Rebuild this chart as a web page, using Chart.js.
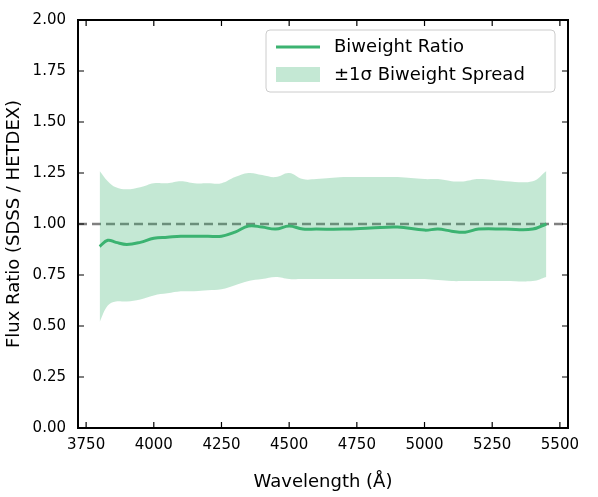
<!DOCTYPE html>
<html><head><meta charset="utf-8">
<script src="https://cdn.jsdelivr.net/npm/chart.js@4.4.0/dist/chart.umd.min.js"></script>
<style>html,body{margin:0;padding:0;background:#fff}#wrap{width:598px;height:497px}</style>
</head><body><div id="wrap"><canvas id="c"></canvas></div>
<script>
// values
const wavelength = [3800,3830,3860,3900,3950,4000,4050,4100,4150,4200,4250,4300,4350,4400,4450,4500,4550,4600,4700,4800,4900,5000,5050,5100,5150,5200,5300,5400,5450];
const ratio      = [0.89,0.92,0.91,0.90,0.91,0.93,0.935,0.94,0.94,0.94,0.94,0.96,0.99,0.985,0.975,0.99,0.975,0.975,0.975,0.98,0.985,0.97,0.975,0.965,0.96,0.975,0.975,0.975,1.0];
const upper      = [1.26,1.21,1.18,1.17,1.18,1.20,1.20,1.21,1.20,1.20,1.20,1.23,1.25,1.24,1.23,1.25,1.22,1.22,1.23,1.23,1.23,1.22,1.22,1.21,1.21,1.22,1.21,1.21,1.26];
const lower      = [0.52,0.60,0.62,0.62,0.63,0.65,0.66,0.67,0.67,0.675,0.68,0.70,0.72,0.73,0.74,0.73,0.73,0.73,0.73,0.73,0.73,0.73,0.725,0.72,0.72,0.72,0.72,0.72,0.74];
const xTicks = [3750,4000,4250,4500,4750,5000,5250,5500];
const yTicks = [0,0.25,0.5,0.75,1.0,1.25,1.5,1.75,2.0];
const green = '#3cb371';
const pts = a => wavelength.map((w,i) => ({x:w, y:a[i]}));

const frame = {
  id:'frame',
  afterDraw(ch){
    const c = ch.ctx, a = ch.chartArea, sx = ch.scales.x, sy = ch.scales.y;
    c.save(); c.strokeStyle='#000'; c.lineWidth=2;
    c.strokeRect(a.left,a.top,a.right-a.left,a.bottom-a.top);
    c.lineWidth=1.2;
    xTicks.forEach(t=>{const p=sx.getPixelForValue(t);c.beginPath();c.moveTo(p,a.bottom);c.lineTo(p,a.bottom-6);c.moveTo(p,a.top);c.lineTo(p,a.top+6);c.stroke();});
    yTicks.forEach(t=>{const p=sy.getPixelForValue(t);c.beginPath();c.moveTo(a.left,p);c.lineTo(a.left+6,p);c.moveTo(a.right,p);c.lineTo(a.right-6,p);c.stroke();});
    // legend
    const lx=266, ly=30, lw=289, lh=62;
    c.fillStyle='rgba(255,255,255,0.85)'; c.strokeStyle='#ccc'; c.lineWidth=1;
    c.beginPath(); c.roundRect(lx,ly,lw,lh,4); c.fill(); c.stroke();
    c.strokeStyle=green; c.lineWidth=3;
    c.beginPath(); c.moveTo(276,47); c.lineTo(320,47); c.stroke();
    c.fillStyle='rgba(60,179,113,0.3)'; c.fillRect(276,67,44,15);
    c.fillStyle='#000'; c.font='18px "DejaVu Sans"'; c.textBaseline='middle';
    c.fillText('Biweight Ratio',334,47);
    c.fillText('\u00b11\u03c3 Biweight Spread',334,75);
    c.restore();
  }
};

new Chart(document.getElementById('c'), {
  type:'line',
  data:{datasets:[
    {data:pts(lower), borderWidth:0, pointRadius:0, fill:false, tension:0.4},
    {data:pts(upper), borderWidth:0, pointRadius:0, fill:'-1', backgroundColor:'rgba(60,179,113,0.3)', tension:0.4},
    {data:pts(ratio), borderColor:green, borderWidth:3, pointRadius:0, fill:false, tension:0.4},
    {data:[{x:3720,y:1},{x:5530,y:1}], borderColor:'#808080', borderWidth:2.5, borderDash:[9,5], pointRadius:0, fill:false}
  ]},
  options:{
    responsive:true, maintainAspectRatio:false, animation:false,
    layout:{padding:{top:20,right:30}},
    plugins:{legend:{display:false}, tooltip:{enabled:false}},
    scales:{
      x:{type:'linear', min:3720, max:5530,
        afterBuildTicks:s=>{s.ticks=xTicks.map(v=>({value:v}));},
        afterFit:s=>{s.height=69;},
        grid:{display:false}, border:{display:false},
        ticks:{color:'#000', font:{family:'DejaVu Sans', size:15}, maxRotation:0, padding:0, callback:v=>String(v)},
        title:{display:true, text:'Wavelength (\u00c5)', color:'#000', font:{family:'DejaVu Sans', size:18}, padding:{top:0}}},
      y:{min:0, max:2,
        afterBuildTicks:s=>{s.ticks=yTicks.map(v=>({value:v}));},
        afterFit:s=>{s.width=78;},
        grid:{display:false}, border:{display:false},
        ticks:{color:'#000', font:{family:'DejaVu Sans', size:15}, callback:v=>v.toFixed(2), padding:4},
        title:{display:true, text:'Flux Ratio (SDSS / HETDEX)', color:'#000', font:{family:'DejaVu Sans', size:18}, padding:{bottom:0}}}
    }
  },
  plugins:[frame]
});
</script></body></html>
